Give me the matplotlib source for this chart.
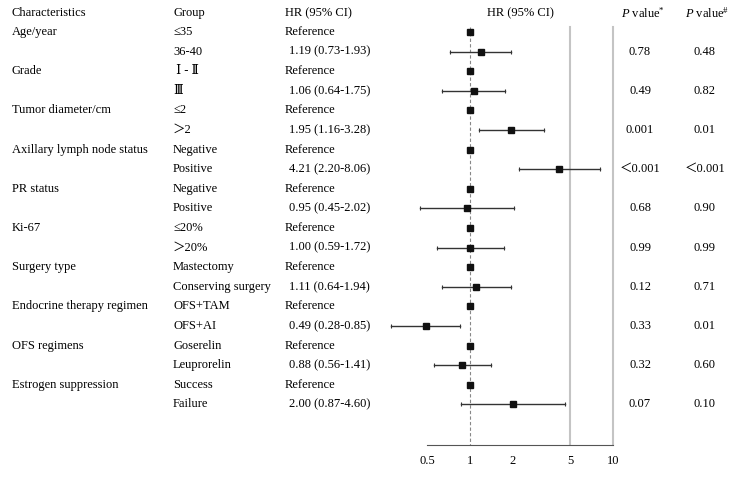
import numpy as np
import matplotlib
matplotlib.use("Agg")
import matplotlib.pyplot as plt
import matplotlib.transforms as mtransforms

plt.rcParams['font.family'] = ['Liberation Serif', 'DejaVu Serif', 'Noto Sans CJK SC']
plt.rcParams['font.size'] = 9
plt.rcParams['mathtext.fontset'] = 'custom'
plt.rcParams['mathtext.rm'] = 'Liberation Serif'
plt.rcParams['mathtext.it'] = 'Liberation Serif:italic'

# table data
characteristics = ["Age/year", "", "Grade", "", "Tumor diameter/cm", "",
                   "Axillary lymph node status", "", "PR status", "", "Ki-67", "",
                   "Surgery type", "", "Endocrine therapy regimen", "",
                   "OFS regimens", "", "Estrogen suppression", ""]
groups = ["≤35", "36-40", " Ⅰ - Ⅱ", "Ⅲ", "≤2", "＞2", "Negative", "Positive",
          "Negative", "Positive", "≤20%", "＞20%", "Mastectomy", "Conserving surgery",
          "OFS+TAM", "OFS+AI", "Goserelin", "Leuprorelin", "Success", "Failure"]
hr = [1, 1.19, 1, 1.06, 1, 1.95, 1, 4.21, 1, 0.95, 1, 1.00, 1, 1.11, 1, 0.49, 1, 0.88, 1, 2.00]
lo = [None, 0.73, None, 0.64, None, 1.16, None, 2.20, None, 0.45, None, 0.59,
      None, 0.64, None, 0.28, None, 0.56, None, 0.87]
hi = [None, 1.93, None, 1.75, None, 3.28, None, 8.06, None, 2.02, None, 1.72,
      None, 1.94, None, 0.85, None, 1.41, None, 4.60]
p1 = ["", "0.78", "", "0.49", "", "0.001", "", "＜0.001", "", "0.68", "", "0.99",
      "", "0.12", "", "0.33", "", "0.32", "", "0.07"]
p2 = ["", "0.48", "", "0.82", "", "0.01", "", "＜0.001", "", "0.90", "", "0.99",
      "", "0.71", "", "0.01", "", "0.60", "", "0.10"]
xticks = [0.5, 1, 2, 5, 10]

W, H = 732, 478
fig = plt.figure(figsize=(W / 100, H / 100), dpi=100)

# forest axes placed so that row i sits at pixel 32 + 19.6*i
row0, step, axis_px = 32, 19.6, 445
x1_px, dec_px = 470, 143
xmin, xmax = 0.25, 12
left_px = x1_px + np.log10(xmin) * dec_px
right_px = x1_px + np.log10(xmax) * dec_px
ax = fig.add_axes([left_px / W, (H - axis_px) / H, (right_px - left_px) / W, axis_px / H])
ax.set_xscale("log")
ax.set_xlim(xmin, xmax)
ybot = (axis_px - row0) / step
ytop = -row0 / step
ax.set_ylim(ybot, ytop)
ax.patch.set_alpha(0)

for s in ["top", "right", "left"]:
    ax.spines[s].set_visible(False)
ax.spines["bottom"].set_bounds(0.5, 10)
ax.spines["bottom"].set_color("#555555")
ax.set_yticks([])
ax.set_xticks(xticks)
ax.set_xticklabels(["0.5", "1", "2", "5", "10"])
ax.minorticks_off()
ax.tick_params(axis="x", length=0, pad=7, labelsize=9)

yline_top = (27 - row0) / step
ax.plot([1, 1], [yline_top, ybot], ls=(0, (3, 2)), color="#888888", lw=0.8)
for xv in [5, 10]:
    ax.plot([xv, xv], [yline_top, ybot], color="#c4c4c4", lw=1.5)

rows = np.arange(len(groups))
for i in rows:
    if lo[i] is not None:
        ax.plot([lo[i], hi[i]], [i, i], color="#333333", lw=1)
        ax.plot([lo[i], hi[i]], [i, i], ls="none", marker="|", ms=3, color="#333333", mew=0.8)
ax.plot(hr, rows, ls="none", marker="s", ms=5, color="#111111")

# text columns in pixel x, data y
tr = mtransforms.blended_transform_factory(fig.transFigure, ax.transData)
hy = (13 - row0) / step
ax.text(12 / W, hy, "Characteristics", transform=tr, va="center")
ax.text(173 / W, hy, "Group", transform=tr, va="center")
ax.text(285 / W, hy, "HR (95% CI)", transform=tr, va="center")
ax.text(520 / W, hy, "HR (95% CI)", transform=tr, va="center", ha="center")
ax.text(643 / W, hy, r"$P$ value$^{*}$", transform=tr, va="center", ha="center")
ax.text(707 / W, hy, r"$P$ value$^{\#}$", transform=tr, va="center", ha="center")

for i in rows:
    ax.text(12 / W, i, characteristics[i], transform=tr, va="center")
    ax.text(173 / W, i, groups[i], transform=tr, va="center")
    if lo[i] is None:
        ax.text(285 / W, i, "Reference", transform=tr, va="center")
    else:
        ax.text(289 / W, i, f"{hr[i]:.2f} ({lo[i]:.2f}-{hi[i]:.2f})", transform=tr, va="center")
    ax.text(640 / W, i, p1[i], transform=tr, va="center", ha="center")
    ax.text(705 / W, i, p2[i], transform=tr, va="center", ha="center")

fig.savefig("out.png", dpi=100)
